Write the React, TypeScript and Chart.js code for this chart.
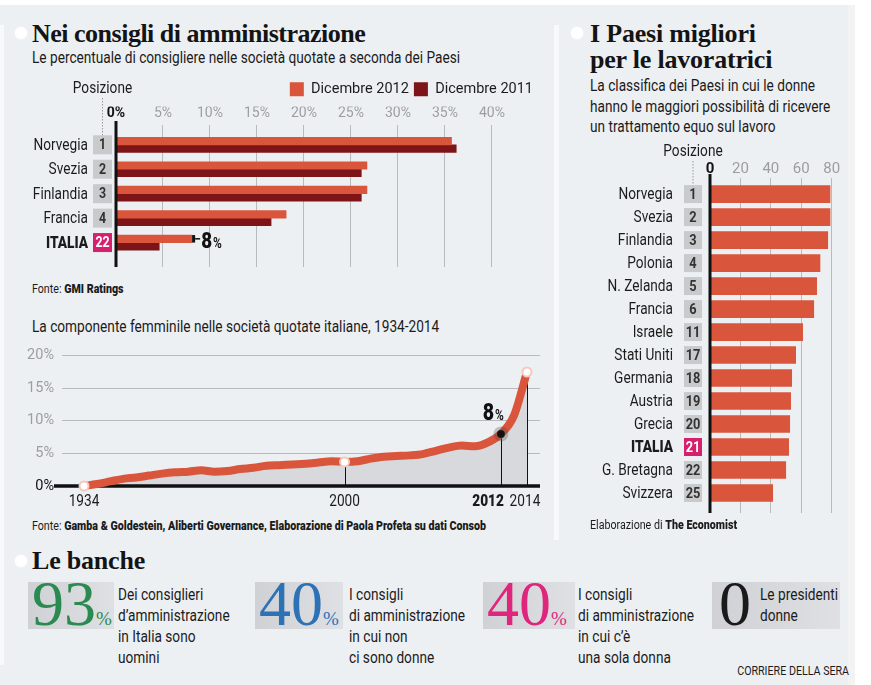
import React, { useEffect, useRef } from 'react';
import { Chart, registerables } from 'chart.js';

Chart.register(...registerables);

const COND = 'Roboto, "Liberation Sans", sans-serif';
const SERIF = '"Liberation Serif", "DejaVu Serif", serif';
const INK = '#1b1b1b';
const ORANGE = '#d9553b';
const DARKRED = '#7d1418';
const GRAYBOX = '#c9cacc';
const MAGENTA = '#d4206f';
const TICKGRAY = '#9d9d9d';
const GRID = '#b9babc';
const BG = '#edf0f3';

const CS = (() => {
  try {
    const c = document.createElement('canvas').getContext('2d') as CanvasRenderingContext2D;
    c.font = '16px Roboto';
    const w = c.measureText('Le percentuale di consigliere nelle società quotate a seconda dei Paesi').width;
    return Math.min(1, 428 / w);
  } catch (e) {
    return 0.85;
  }
})();

// ---------- Chart 1: Nei consigli di amministrazione ----------
const boardCountries = ['Norvegia', 'Svezia', 'Finlandia', 'Francia', 'ITALIA'];
const boardRanks = [1, 2, 3, 4, 22];
const board2012 = [35.7, 26.7, 26.7, 18.1, 8.1];
const board2011 = [36.2, 26.1, 26.1, 16.5, 4.6];
const boardSeries = ['Dicembre 2012', 'Dicembre 2011'];
const boardTickMax = 40;

// ---------- Chart 2: componente femminile 1934-2014 ----------
const trendYears = [
  1934, 1937, 1940, 1943, 1946, 1949, 1952, 1955, 1958, 1961, 1964, 1967, 1970, 1973,
  1976, 1979, 1982, 1985, 1990, 1995, 2000, 2001, 2002, 2003, 2004, 2005, 2006, 2007,
  2008, 2009, 2010, 2011, 2012, 2013, 2014,
];
const trendShare = [
  0, 0.3, 0.7, 1.1, 1.3, 1.6, 1.9, 2.1, 2.2, 2.4, 2.2, 2.3, 2.6, 2.8,
  3.1, 3.2, 3.3, 3.4, 3.6, 3.8, 3.7, 3.8, 4.2, 4.5, 4.6, 4.7, 4.9, 5.4,
  5.9, 6.2, 6.1, 6.7, 8.0, 10.8, 17.5,
];
const trendLabelYears = [1934, 2000, 2012, 2014];
const trendHighlightYear = 2012;
const trendWhitePoints = [1934, 2000, 2014];

// ---------- Chart 3: I Paesi migliori per le lavoratrici ----------
const workCountries = [
  'Norvegia', 'Svezia', 'Finlandia', 'Polonia', 'N. Zelanda', 'Francia', 'Israele',
  'Stati Uniti', 'Germania', 'Austria', 'Grecia', 'ITALIA', 'G. Bretagna', 'Svizzera',
];
const workRanks = [1, 2, 3, 4, 5, 6, 11, 17, 18, 19, 20, 21, 22, 25];
const workScores = [78.9, 78.9, 77.4, 72.3, 70.1, 68.2, 60.9, 56.3, 53.7, 53.0, 52.4, 51.7, 49.8, 41.2];
const workTickMax = 80;

// ---------- Le banche ----------
const statValues = ['93', '40', '40', '0'];
const statUnits = ['%', '%', '%', ''];
const statColors = ['#2a8a4f', '#2e72b6', '#e0267c', '#1a1a1a'];
const statTexts = [
  ['Dei consiglieri', 'd\u2019amministrazione', 'in Italia sono', 'uomini'],
  ['I consigli', 'di amministrazione', 'in cui non', 'ci sono donne'],
  ['I consigli', 'di amministrazione', 'in cui c\u2019\u00e8', 'una sola donna'],
  ['Le presidenti', 'donne'],
];

function condText(ctx: CanvasRenderingContext2D, text: string, x: number, y: number, align: CanvasTextAlign, font: string) {
  ctx.save();
  ctx.font = font;
  ctx.translate(x, y);
  ctx.scale(CS, 1);
  ctx.textAlign = align;
  ctx.fillText(text, 0, 0);
  ctx.restore();
}

function drawRankRows(chart: any, names: string[], ranks: number[], boxW: number, boxH: number, gap: number, nameGap: number, nameSize: number, rankSize: number, posDy: number) {
  const { ctx, chartArea, scales } = chart;
  const xS = scales.x;
  const yS = scales.y;
  const ax = xS.getPixelForValue(0);
  ctx.save();
  ctx.fillStyle = '#111';
  ctx.fillRect(ax - 1.5, chartArea.top - 4, 3, chartArea.bottom - chartArea.top + 4);
  const boxR = ax - gap;
  const boxL = boxR - boxW;
  ctx.textBaseline = 'middle';
  names.forEach((name, i) => {
    const y = yS.getPixelForValue(i);
    const isIt = name === 'ITALIA';
    ctx.fillStyle = isIt ? MAGENTA : GRAYBOX;
    ctx.fillRect(boxL, y - boxH / 2, boxW, boxH);
    ctx.fillStyle = isIt ? '#fff' : '#333';
    condText(ctx, String(ranks[i]), boxL + boxW / 2, y + 1, 'center', `bold ${rankSize}px ${COND}`);
    ctx.fillStyle = INK;
    condText(ctx, name, boxL - nameGap, y + 1, 'right', `${isIt ? '900 ' : ''}${nameSize}px ${COND}`);
  });
  const cx = boxL + boxW / 2;
  ctx.fillStyle = INK;
  condText(ctx, 'Posizione', cx, chartArea.top + posDy, 'center', `${nameSize}px ${COND}`);
  const firstY = yS.getPixelForValue(0) - boxH / 2;
  ctx.strokeStyle = '#9a9a9a';
  ctx.lineWidth = 1;
  ctx.setLineDash([1.5, 1.5]);
  ctx.beginPath();
  ctx.moveTo(cx, chartArea.top + posDy + 9);
  ctx.lineTo(cx, firstY);
  ctx.stroke();
  ctx.restore();
}

const boardPlugin = {
  id: 'boardRows',
  afterDatasetsDraw(chart: any) {
    drawRankRows(chart, boardCountries, boardRanks, 19, 19, 4, 5, 16, 14.5, -36);
    const { ctx } = chart;
    const iIt = boardCountries.indexOf('ITALIA');
    const bar = chart.getDatasetMeta(0).data[iIt];
    const bx = bar.x;
    const by = bar.y;
    ctx.save();
    ctx.fillStyle = '#111';
    ctx.fillRect(bx, by - 3.75, 3, 7.5);
    ctx.fillRect(bx + 3, by - 0.75, 5, 1.5);
    ctx.textBaseline = 'alphabetic';
    const num = String(Math.round(board2012[iIt]));
    ctx.font = `900 22px ${COND}`;
    const w = ctx.measureText(num).width * CS;
    condText(ctx, num, bx + 9, by + 9, 'left', `900 22px ${COND}`);
    condText(ctx, '%', bx + 9 + w + 1, by + 9, 'left', `bold 14px ${COND}`);
    ctx.restore();
  },
};

const workPlugin = {
  id: 'workRows',
  afterDatasetsDraw(chart: any) {
    drawRankRows(chart, workCountries, workRanks, 18, 18, 8, 11, 16, 15, -26);
  },
};

const trendPlugin = {
  id: 'trendMarks',
  beforeDatasetsDraw(chart: any) {
    const { ctx, chartArea, scales } = chart;
    const y0 = scales.y.getPixelForValue(0);
    ctx.save();
    ctx.fillStyle = '#111';
    ctx.fillRect(chartArea.left - 8, y0 - 1.75, chartArea.right - chartArea.left + 8, 3.5);
    ctx.strokeStyle = '#111';
    ctx.lineWidth = 1;
    trendLabelYears.slice(1).forEach((yr) => {
      const i = trendYears.indexOf(yr);
      const px = Math.round(scales.x.getPixelForValue(i)) + 0.5;
      ctx.beginPath();
      ctx.moveTo(px, scales.y.getPixelForValue(trendShare[i]));
      ctx.lineTo(px, y0);
      ctx.stroke();
    });
    ctx.restore();
  },
  afterDatasetsDraw(chart: any) {
    const { ctx, chartArea, scales } = chart;
    const hi = trendYears.indexOf(trendHighlightYear);
    const hx = scales.x.getPixelForValue(hi);
    const hy = scales.y.getPixelForValue(trendShare[hi]);
    ctx.save();
    ctx.fillStyle = 'rgba(70,70,70,0.28)';
    ctx.beginPath();
    ctx.arc(hx, hy, 7.5, 0, Math.PI * 2);
    ctx.fill();
    ctx.fillStyle = '#111';
    ctx.beginPath();
    ctx.arc(hx, hy, 3, 0, Math.PI * 2);
    ctx.fill();
    const num = String(Math.round(trendShare[hi]));
    ctx.textBaseline = 'alphabetic';
    ctx.font = `bold 14px ${COND}`;
    const pw = ctx.measureText('%').width * CS;
    condText(ctx, '%', hx + 3, hy - 14, 'right', `bold 14px ${COND}`);
    condText(ctx, num, hx + 3 - pw - 1, hy - 14, 'right', `900 23px ${COND}`);
    const ly = chartArea.bottom + 20;
    ctx.fillStyle = INK;
    trendLabelYears.forEach((yr) => {
      const i = trendYears.indexOf(yr);
      const px = scales.x.getPixelForValue(i);
      const bold = yr === trendHighlightYear;
      const f = `${bold ? '900 ' : ''}16px ${COND}`;
      if (bold) condText(ctx, String(yr), px + 3, ly, 'right', f);
      else if (i === trendYears.length - 1) condText(ctx, String(yr), px - 2, ly, 'center', f);
      else condText(ctx, String(yr), px, ly, 'center', f);
    });
    ctx.restore();
  },
};

function useChart(ref: any, make: () => any) {
  useEffect(() => {
    const chart = new Chart(ref.current, make());
    return () => chart.destroy();
  }, []);
}

const tickFont = (size: number) => (ctx: any) => ({
  family: COND,
  size,
  weight: ctx.tick && ctx.tick.value === 0 ? 'bold' : 'normal',
});
const tickColor = (ctx: any) => (ctx.tick && ctx.tick.value === 0 ? '#111' : TICKGRAY);
const gridColor = (ctx: any) => (ctx.tick && ctx.tick.value === 0 ? 'rgba(0,0,0,0)' : GRID);

function BoardChart() {
  const ref = useRef<HTMLCanvasElement>(null);
  useChart(ref, () => ({
    type: 'bar',
    data: {
      datasets: [
        { label: boardSeries[0], data: board2012.map((v, i) => ({ x: v, y: i })), backgroundColor: ORANGE, barThickness: 7.5 },
        { label: boardSeries[1], data: board2011.map((v, i) => ({ x: v, y: i })), backgroundColor: DARKRED, barThickness: 7.5 },
      ],
    },
    options: {
      indexAxis: 'y',
      responsive: false,
      animation: false,
      events: [],
      layout: { padding: { left: 116, right: 10, top: 0, bottom: 10 } },
      scales: {
        x: {
          type: 'linear',
          position: 'top',
          min: 0,
          max: 44.9,
          ticks: { stepSize: 5, padding: 3, includeBounds: false, font: tickFont(14), color: tickColor, callback: (v: number) => v + '%' },
          afterBuildTicks: (s: any) => { s.ticks = s.ticks.filter((t: any) => t.value <= boardTickMax); },
          afterFit: (s: any) => { s.height = 18.5; },
          grid: { color: gridColor, drawTicks: false, lineWidth: 1 },
          border: { display: false },
        },
        y: { type: 'linear', reverse: true, min: -0.81, max: 5.0, offset: false, display: false },
      },
      plugins: {
        legend: {
          position: 'top',
          align: 'end',
          labels: { boxWidth: 14, boxHeight: 14, padding: 5, color: INK, font: { family: COND, size: 14.5 } },
        },
        tooltip: { enabled: false },
      },
    },
    plugins: [boardPlugin],
  }));
  return <canvas ref={ref} width={548} height={200} style={{ position: 'absolute', left: 0, top: 77 }} />;
}

function TrendChart() {
  const ref = useRef<HTMLCanvasElement>(null);
  const whiteIdx = trendWhitePoints.map((y) => trendYears.indexOf(y));
  const hiIdx = trendYears.indexOf(trendHighlightYear);
  useChart(ref, () => ({
    type: 'line',
    data: {
      datasets: [
        {
          data: trendShare.map((v, i) => ({ x: i, y: v })),
          borderColor: ORANGE,
          borderWidth: 8,
          backgroundColor: '#d7d9dc',
          fill: 'origin',
          cubicInterpolationMode: 'monotone',
          clip: false,
          pointRadius: (c: any) => (whiteIdx.includes(c.dataIndex) ? 4.5 : c.dataIndex === hiIdx ? 3 : 0),
          pointBackgroundColor: (c: any) => (c.dataIndex === hiIdx ? '#111' : '#fff'),
          pointBorderColor: (c: any) => (c.dataIndex === hiIdx ? '#111' : '#f4c9bc'),
          pointBorderWidth: 2,
        },
      ],
    },
    options: {
      responsive: false,
      animation: false,
      events: [],
      layout: { padding: { left: 0, right: 8, top: 10, bottom: 29 } },
      scales: {
        x: { type: 'linear', min: -1.69, max: 35.0, display: false },
        y: {
          min: 0,
          max: 20,
          ticks: { stepSize: 5, padding: 2, color: tickColor, font: { family: COND, size: 14.5 }, callback: (v: number) => v + '%' },
          grid: { color: gridColor, drawTicks: true, tickLength: 6, tickColor: 'rgba(0,0,0,0)' },
          border: { display: false },
          afterFit: (s: any) => { s.width = 62; },
        },
      },
      plugins: {
        legend: { display: false },
        tooltip: { enabled: false },
        filler: { drawTime: 'beforeDatasetsDraw' },
      },
    },
    plugins: [trendPlugin],
  }));
  return <canvas ref={ref} width={548} height={170} style={{ position: 'absolute', left: 0, top: 345 }} />;
}

function WorkChart() {
  const ref = useRef<HTMLCanvasElement>(null);
  useChart(ref, () => ({
    type: 'bar',
    data: {
      datasets: [
        { label: 'Punteggio', data: workScores.map((v, i) => ({ x: v, y: i })), backgroundColor: ORANGE, barThickness: 17 },
      ],
    },
    options: {
      indexAxis: 'y',
      responsive: false,
      animation: false,
      events: [],
      layout: { padding: { left: 155, right: 0, top: 20, bottom: 12 } },
      scales: {
        x: {
          type: 'linear',
          position: 'top',
          min: 0,
          max: 95.3,
          ticks: { stepSize: 20, padding: 0, includeBounds: false, font: tickFont(15), color: tickColor },
          afterBuildTicks: (s: any) => { s.ticks = s.ticks.filter((t: any) => t.value <= workTickMax); },
          afterFit: (s: any) => { s.height = 18; },
          grid: { color: gridColor, drawTicks: false, lineWidth: 1 },
          border: { display: false },
        },
        y: { type: 'linear', reverse: true, min: -0.7, max: 13.87, offset: false, display: false },
      },
      plugins: { legend: { display: false }, tooltip: { enabled: false } },
    },
    plugins: [workPlugin],
  }));
  return <canvas ref={ref} width={300} height={385} style={{ position: 'absolute', left: 555, top: 140 }} />;
}

function Txt(props: { x: number; y: number; size: number; lh?: number; children: any; style?: any; serif?: boolean }) {
  const lh = props.lh ?? Math.round(props.size * 1.3);
  return (
    <div
      style={{
        position: 'absolute',
        left: props.x,
        top: props.y - lh / 2,
        fontSize: props.size,
        lineHeight: lh + 'px',
        fontFamily: COND,
        color: INK,
        whiteSpace: 'nowrap',
        transform: props.serif ? undefined : `scaleX(${CS})`,
        transformOrigin: '0 50%',
        ...props.style,
      }}
    >
      {props.children}
    </div>
  );
}

const titleStyle = { fontFamily: SERIF, fontWeight: 'bold', letterSpacing: '-0.2px', color: '#141414' };

function Bullet({ x, y }: { x: number; y: number }) {
  return (
    <div
      style={{
        position: 'absolute',
        left: x - 6,
        top: y - 6,
        width: 12,
        height: 12,
        borderRadius: 6,
        background: '#fff',
        boxShadow: '0 0 2px #fff',
      }}
    />
  );
}

const statBoxes = [
  { box: [28, 86], num: 32, text: 118 },
  { box: [255, 88], num: 259, text: 349 },
  { box: [483, 92], num: 487, text: 578 },
  { box: [712, 128], num: 719, text: 760 },
];

export default function App() {
  return (
    <div style={{ position: 'absolute', left: 0, top: 0, width: 871, height: 685, background: '#fff', overflow: 'hidden' }}>
      <div style={{ position: 'absolute', left: 0, top: 5, width: 848, height: 680, background: BG }} />
      <div style={{ position: 'absolute', left: 848, top: 5, width: 7, height: 680, background: '#f3f3f3' }} />
      <div style={{ position: 'absolute', left: 0, top: 25, width: 4, height: 640, background: '#f8f9fa' }} />
      <div style={{ position: 'absolute', left: 554, top: 25, width: 5, height: 515, background: '#f8f9fa' }} />

      <Bullet x={21} y={33} />
      <Txt x={32} y={34} size={26} lh={30} serif style={{ ...titleStyle, letterSpacing: '-0.5px' }}>Nei consigli di amministrazione</Txt>
      <Txt x={32} y={58} size={16} lh={20}>Le percentuale di consigliere nelle società quotate a seconda dei Paesi</Txt>
      <BoardChart />
      <Txt x={32} y={289} size={12.5} lh={16}>
        Fonte: <b style={{ fontWeight: 900 }}>GMI Ratings</b>
      </Txt>

      <Txt x={32} y={327} size={16} lh={20}>La componente femminile nelle società quotate italiane, 1934-2014</Txt>
      <TrendChart />
      <Txt x={32} y={526} size={12.5} lh={16}>
        Fonte: <b style={{ fontWeight: 900 }}>Gamba &amp; Goldestein, Aliberti Governance, Elaborazione di Paola Profeta su dati Consob</b>
      </Txt>

      <Bullet x={577} y={33} />
      <div
        style={{
          position: 'absolute',
          left: 590,
          top: 21,
          fontSize: 26,
          lineHeight: '26px',
          whiteSpace: 'nowrap',
          ...titleStyle,
        }}
      >
        I Paesi migliori
        <br />
        per le lavoratrici
      </div>
      <div
        style={{
          position: 'absolute',
          left: 590,
          top: 76,
          fontSize: 16,
          lineHeight: '20.5px',
          fontFamily: COND,
          color: INK,
          whiteSpace: 'nowrap',
          transform: `scaleX(${CS})`,
          transformOrigin: '0 50%',
        }}
      >
        La classifica dei Paesi in cui le donne
        <br />
        hanno le maggiori possibilità di ricevere
        <br />
        un trattamento equo sul lavoro
      </div>
      <WorkChart />
      <Txt x={590} y={525} size={12.5} lh={16}>
        Elaborazione di <b style={{ fontWeight: 900 }}>The Economist</b>
      </Txt>

      <Bullet x={21} y={561} />
      <Txt x={32} y={561} size={26} lh={30} serif style={titleStyle}>Le banche</Txt>

      {statBoxes.map((b, i) => (
        <React.Fragment key={i}>
          <div
            style={{
              position: 'absolute',
              left: b.box[0],
              top: 582,
              width: b.box[1],
              height: 47,
              background: 'linear-gradient(to right, #cfd1d4, #dee0e3)',
            }}
          />
          <div
            style={{
              position: 'absolute',
              left: b.num,
              top: 572,
              lineHeight: '64px',
              fontFamily: SERIF,
              color: statColors[i],
              whiteSpace: 'nowrap',
            }}
          >
            <span style={{ fontSize: 64 }}>{statValues[i]}</span>
            <span style={{ fontSize: 19 }}>{statUnits[i]}</span>
          </div>
          <div
            style={{
              position: 'absolute',
              left: b.text,
              top: 584,
              fontSize: 16,
              lineHeight: '21px',
              fontFamily: COND,
              color: INK,
              whiteSpace: 'nowrap',
              transform: `scaleX(${CS})`,
              transformOrigin: '0 50%',
            }}
          >
            {statTexts[i].map((l, k) => (
              <div key={k}>{l}</div>
            ))}
          </div>
        </React.Fragment>
      ))}

      <div
        style={{
          position: 'absolute',
          right: 871 - 849,
          top: 663,
          fontSize: 12.5,
          lineHeight: '16px',
          fontFamily: COND,
          color: INK,
          transform: `scaleX(${CS})`,
          transformOrigin: '100% 50%',
        }}
      >
        CORRIERE DELLA SERA
      </div>
    </div>
  );
}
